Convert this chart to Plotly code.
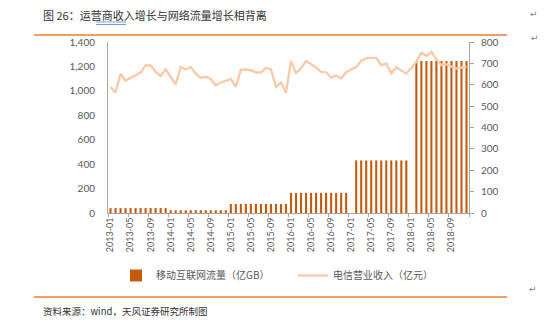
import plotly.graph_objects as go

# Monthly categories 2013-01 .. 2018-12
months = [f"{y}-{m:02d}" for y in range(2013, 2019) for m in range(1, 13)]

# Mobile internet traffic (亿GB), one value per year repeated by month;
# Jan 2017 and Jan 2018 have no reading.
traffic_by_year = {2013: 23, 2014: 13, 2015: 42, 2016: 94, 2017: 246, 2018: 711}
missing_months = {"2017-01", "2018-01"}
traffic = [None if m in missing_months else traffic_by_year[int(m[:4])] for m in months]

# Telecom operating revenue (亿元)
revenue = [
    1030, 987, 1140, 1084, 1106, 1128, 1150, 1210, 1208, 1155, 1121, 1177,
    1114, 1052, 1196, 1175, 1196, 1140, 1108, 1115, 1098, 1045, 1068, 1086,
    1098, 1033, 1172, 1175, 1169, 1152, 1150, 1188, 1175, 1033, 1068, 984,
    1245, 1147, 1183, 1245, 1218, 1191, 1155, 1152, 1109, 1126, 1101, 1152,
    1175, 1196, 1245, 1267, 1270, 1270, 1210, 1225, 1144, 1193, 1166, 1142,
    1188, 1240, 1313, 1286, 1320, 1258, 1210, 1218, 1199, 1183, 1191, 1196,
]

W, H = 547, 325
L, R, T, B = 108, 78, 42, 112
PW, PH = W - L - R, H - T - B


def px(x):
    return (x - L) / PW


def py(y):
    return (H - B - y) / PH


CJK = "Noto Sans CJK SC"
NUM = "Lato"
GRAY = "#595959"
AXIS = "#A6A6A6"

fig = go.Figure()
fig.add_trace(go.Bar(
    x=months, y=traffic, name="移动互联网流量（亿GB）",
    marker=dict(color="#C55A11", line=dict(width=0)),
    width=0.42, yaxis="y",
))
fig.add_trace(go.Scatter(
    x=months, y=revenue, name="电信营业收入（亿元）",
    mode="lines", line=dict(color="#F8CBAD", width=2.4),
    yaxis="y2",
))

fig.update_layout(
    width=W, height=H,
    margin=dict(l=L, r=R, t=T, b=B, pad=0),
    paper_bgcolor="white", plot_bgcolor="white",
    showlegend=True,
    bargap=0.5,
    xaxis=dict(
        type="category", tickmode="linear", tick0=0, dtick=4,
        tickson="boundaries", ticks="outside", ticklen=3, tickcolor=AXIS,
        tickangle=-90, showline=True, linecolor=AXIS, linewidth=1,
        showgrid=False, zeroline=False,
        tickfont=dict(family=NUM, size=9, color=GRAY),
    ),
    yaxis=dict(
        side="right", range=[0, 800], dtick=100,
        showline=True, linecolor=AXIS, linewidth=1,
        ticks="outside", ticklen=4, tickcolor=AXIS,
        showgrid=False, zeroline=False, ticklabelstandoff=5,
        tickfont=dict(family=NUM, size=10, color=GRAY),
    ),
    yaxis2=dict(
        side="left", overlaying="y", range=[0, 1400], dtick=200,
        tickformat=",", showline=True, linecolor=AXIS, linewidth=1,
        ticks="", showgrid=False, zeroline=False, ticklabelstandoff=10,
        tickfont=dict(family=NUM, size=10, color=GRAY),
    ),
    legend=dict(
        orientation="h", x=px(116), xanchor="left",
        y=py(261), yanchor="top", traceorder="normal",
        font=dict(family=CJK, size=10, color=GRAY),
        entrywidth=132, bgcolor="rgba(0,0,0,0)",
    ),
    font=dict(family=CJK, color=GRAY),
)

# Header and footer rules
for yline in (35, 297):
    fig.add_shape(type="line", xref="paper", yref="paper",
                  x0=px(34), x1=px(507), y0=py(yline), y1=py(yline),
                  line=dict(color="#ED7D31", width=1.5))

# Double underline beneath 商收入
for yline in (22, 24.5):
    fig.add_shape(type="line", xref="paper", yref="paper",
                  x0=px(96), x1=px(126), y0=py(yline), y1=py(yline),
                  line=dict(color="#4472C4", width=0.7))

fig.add_annotation(
    xref="paper", yref="paper", x=px(41), y=py(15),
    xanchor="left", yanchor="middle", showarrow=False,
    text="图 26：运营商收入增长与网络流量增长相背离",
    font=dict(family=CJK, size=11, color="#333333"),
)
fig.add_annotation(
    xref="paper", yref="paper", x=px(41), y=py(311),
    xanchor="left", yanchor="middle", showarrow=False,
    text="资料来源：wind，天风证券研究所制图",
    font=dict(family=CJK, size=9.5, color="#333333"),
)
for (xm, ym) in ((534, 14), (535, 38), (533, 289)):
    fig.add_annotation(
        xref="paper", yref="paper", x=px(xm), y=py(ym),
        xanchor="center", yanchor="middle", showarrow=False,
        text="↵", font=dict(family="DejaVu Sans", size=9, color="#7F7F7F"),
    )

fig.write_html("out.html")
